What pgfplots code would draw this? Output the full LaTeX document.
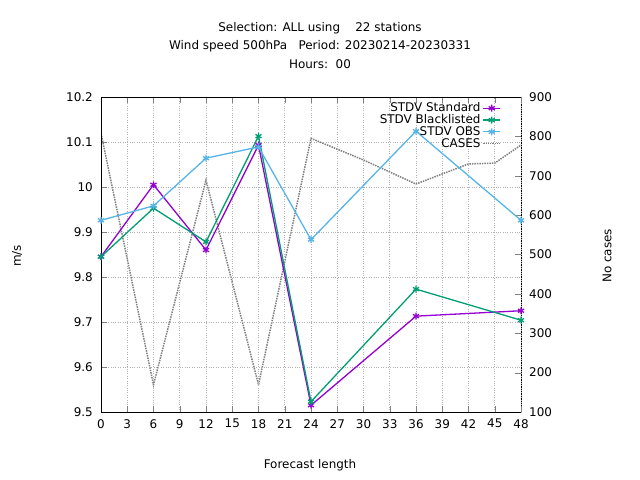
\documentclass[border=0pt]{standalone}
\usepackage{pgfplots}
\pgfplotsset{compat=1.18}
\usepackage{fontspec}
\setmainfont{DejaVu Sans}
\definecolor{cstd}{HTML}{9400D3}
\definecolor{cbl}{HTML}{009E73}
\definecolor{cobs}{HTML}{56B4E9}
\begin{document}
\fontsize{12}{14}\selectfont
\begin{tikzpicture}[x=1bp,y=1bp]
\path[use as bounding box] (0,0) rectangle (640,480);
\pgfplotsset{every axis/.append style={scale only axis, width=420bp, height=315bp, at={(101bp,68bp)}, anchor=south west,
  tick align=inside, /pgf/number format/assume math mode=true, tick label style={font=\fontsize{12}{14}\selectfont},
  xmin=0, xmax=48, major tick length=6bp, axis line style={line width=0.8pt}}}
\begin{axis}[axis x line=none, axis y line*=right, ymin=100, ymax=900, ytick={100,200,...,900},
  yticklabel style={xshift=4bp}]
\addplot[gray, densely dotted, line width=1.5pt] coordinates {(0,808)(6,169)(12,689)(18,169)(24,795)(30,740)(36,679)(42,730)(45,732)(48,778)};
\end{axis}
\begin{axis}[ymin=9.5, ymax=10.2, ytick={9.5,9.6,...,10.2}, xtick={0,3,...,48},
  axis y line*=left, axis x line*=box,
  ytick pos=left, yticklabel style={/pgf/number format/fixed, /pgf/number format/precision=1, xshift=-4bp},
  xticklabel style={yshift=-3bp},
  grid=major, grid style={gray!60, dotted, line width=0.8pt},
  legend style={at={(0.96,0.995)}, anchor=north east, draw=none, fill=none, legend cell align=right, row sep=-3pt, font=\fontsize{12}{14}\selectfont},
  legend plot pos=right, every axis plot/.append style={line width=1.3pt, mark size=3.5pt}]
\addplot[cstd, mark=asterisk] coordinates {(0,9.845)(6,10.005)(12,9.86)(18,10.093)(24,9.515)(36,9.713)(48,9.725)};
\addplot[cbl, mark=asterisk] coordinates {(0,9.845)(6,9.953)(12,9.878)(18,10.113)(24,9.523)(36,9.773)(48,9.704)};
\addplot[cobs, mark=asterisk] coordinates {(0,9.926)(6,9.958)(12,10.064)(18,10.089)(24,9.883)(36,10.124)(48,9.926)};
\addlegendimage{gray, densely dotted, line width=1.5pt}
\legend{STDV Standard, STDV Blacklisted, STDV OBS, CASES}
\end{axis}
\node at (320,452) {Selection: ALL using\ \ \ \ 22 stations};
\node at (320,434) {Wind speed 500hPa\ \ \ Period: 20230214-20230331};
\node at (320,416) {Hours:\ \ 00};
\node[rotate=90] at (17,224) {m/s};
\node[rotate=90] at (607,224) {No cases};
\node at (310,15) {Forecast length};
\end{tikzpicture}
\end{document}
